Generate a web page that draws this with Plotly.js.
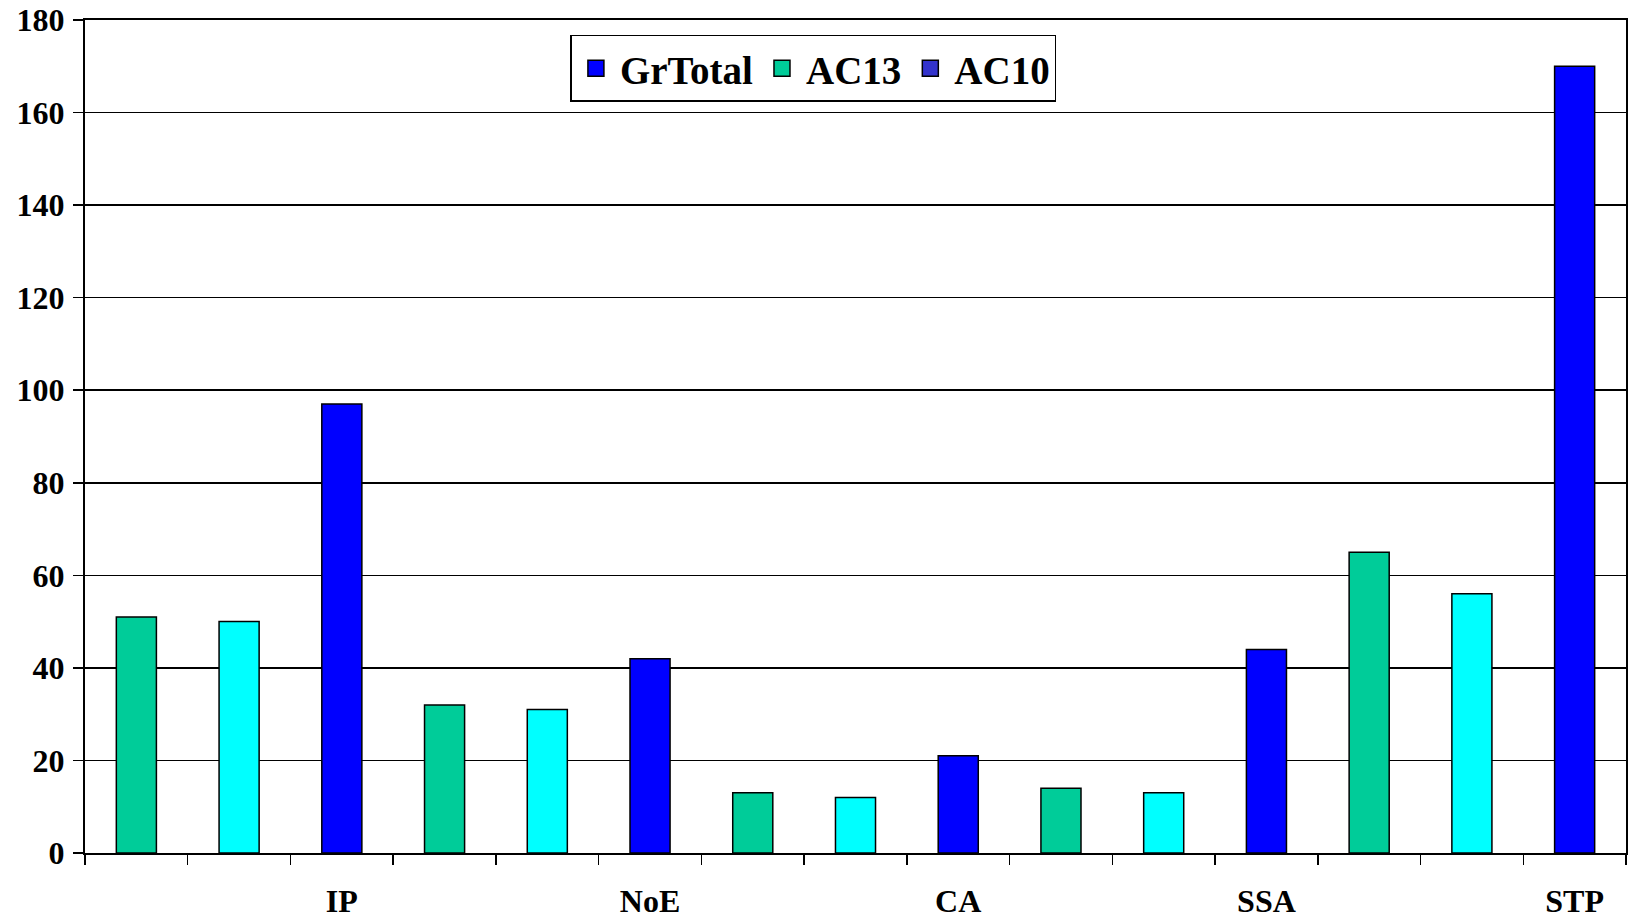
<!DOCTYPE html>
<html>
<head>
<meta charset="utf-8">
<script src="https://cdn.plot.ly/plotly-3.0.1.min.js"></script>
<style>html,body{margin:0;padding:0;background:#fff;}#chart{width:1630px;height:918px;}</style>
</head>
<body>
<div id="chart"></div>
<script>
// Data
const groups = ['IP', 'NoE', 'CA', 'SSA', 'STP'];
const ac13Values = [51, 32, 13, 14, 65];
const ac10Values = [50, 31, 12, 13, 56];
const grTotalValues = [97, 42, 21, 44, 170];
const yTickVals = [0, 20, 40, 60, 80, 100, 120, 140, 160, 180];

// Build categories: three slots per group
const cats = [];
const tickText = [];
groups.forEach(g => {
  cats.push(g + ' AC13', g + ' AC10', g);
  tickText.push('', '', g);
});
const ac13Cats = groups.map(g => g + ' AC13');
const ac10Cats = groups.map(g => g + ' AC10');
const grCats = groups.slice();

const font = {family: 'Liberation Serif, Times New Roman, serif', size: 32, color: '#000', weight: 'bold'};
const barLine = {color: '#000', width: 1.5};
const W = 0.39;

const traces = [
  {type: 'bar', x: ac13Cats, y: ac13Values, width: W, marker: {color: '#00CC99', line: barLine}, showlegend: false, name: 'AC13'},
  {type: 'bar', x: ac10Cats, y: ac10Values, width: W, marker: {color: '#00FFFF', line: barLine}, showlegend: false, name: 'AC10'},
  {type: 'bar', x: grCats, y: grTotalValues, width: W, marker: {color: '#0000FF', line: barLine}, showlegend: false, name: 'GrTotal'},
  // legend-only entries
  {type: 'scatter', mode: 'markers', x: [cats[0]], y: [null], name: 'GrTotal', marker: {symbol: 'square', size: 16, color: '#0000FF', line: {color: '#000', width: 1.5}}},
  {type: 'scatter', mode: 'markers', x: [cats[0]], y: [null], name: 'AC13', marker: {symbol: 'square', size: 16, color: '#00CC99', line: {color: '#000', width: 1.5}}},
  {type: 'scatter', mode: 'markers', x: [cats[0]], y: [null], name: 'AC10', marker: {symbol: 'square', size: 16, color: '#3333CC', line: {color: '#000', width: 1.5}}}
];

const layout = {
  width: 1630, height: 918,
  margin: {l: 85, r: 4, t: 20, b: 65},
  paper_bgcolor: '#fff', plot_bgcolor: '#fff',
  font: font,
  barmode: 'overlay',
  showlegend: true,
  legend: {
    x: 0.315, y: 0.982, xanchor: 'left', yanchor: 'top',
    orientation: 'h',
    bgcolor: '#fff', bordercolor: '#000', borderwidth: 1.5,
    font: {family: font.family, size: 39, color: '#000', weight: 'bold'},
    itemwidth: 38,
    traceorder: 'normal'
  },
  xaxis: {
    type: 'category',
    categoryorder: 'array', categoryarray: cats,
    tickmode: 'array', tickvals: cats, ticktext: tickText,
    tickson: 'boundaries',
    ticks: 'outside', ticklen: 10, tickwidth: 1.5, tickcolor: '#000',
    showgrid: false,
    showline: true, linecolor: '#000', linewidth: 2, mirror: true,
    tickfont: font,
    ticklabelstandoff: 19,
    range: [-0.5, 14.5],
    fixedrange: true
  },
  yaxis: {
    range: [0, 180],
    tickmode: 'array', tickvals: yTickVals,
    ticks: 'outside', ticklen: 10, tickwidth: 1.5, tickcolor: '#000',
    showgrid: true, gridcolor: '#000', gridwidth: 1.5,
    showline: true, linecolor: '#000', linewidth: 2, mirror: true,
    zeroline: false,
    tickfont: font,
    ticklabelstandoff: 2,
    fixedrange: true
  }
};

Plotly.newPlot('chart', traces, layout, {displayModeBar: false, staticPlot: true});
</script>
</body>
</html>
